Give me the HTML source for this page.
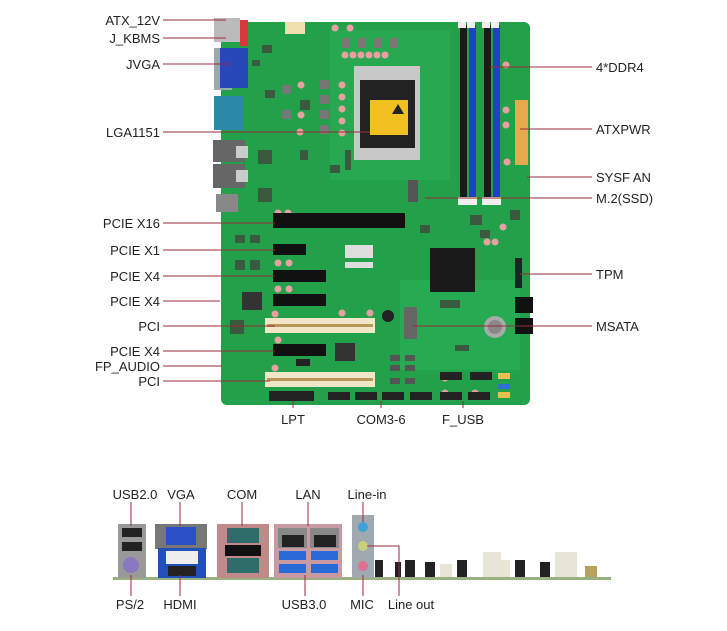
<!DOCTYPE html>
<html><head><meta charset="utf-8"><style>
html,body{margin:0;padding:0;background:#fff;}
svg{display:block;}
text{font-family:"Liberation Sans",sans-serif;font-size:13px;fill:#222;}
</style></head><body>
<svg width="727" height="631" viewBox="0 0 727 631" xmlns="http://www.w3.org/2000/svg">
<!-- board -->
<rect x="221" y="22" width="309" height="383" rx="6" fill="#22a04a"/>
<rect x="330" y="30" width="120" height="150" fill="#2bb058" opacity="0.5"/>
<rect x="400" y="280" width="120" height="90" fill="#2ab35a" opacity="0.5"/>
<!-- back IO left -->
<rect x="214" y="18" width="26" height="24" fill="#bbb"/>
<rect x="240" y="20" width="8" height="26" fill="#d83838"/>
<rect x="285" y="22" width="20" height="12" fill="#f0e0b0"/>
<rect x="214" y="48" width="18" height="42" fill="#9aa"/>
<rect x="220" y="48" width="28" height="40" fill="#2848b8"/>
<rect x="214" y="96" width="30" height="34" fill="#2a88a8"/>
<rect x="213" y="140" width="32" height="22" fill="#666"/>
<rect x="213" y="164" width="32" height="24" fill="#666"/>
<rect x="236" y="146" width="12" height="12" fill="#ccc"/>
<rect x="236" y="170" width="12" height="12" fill="#ccc"/>
<rect x="216" y="194" width="22" height="18" fill="#888"/>
<!-- scattered small parts -->
<g fill="#3a5a40">
<rect x="252" y="60" width="8" height="6"/><rect x="262" y="45" width="10" height="8"/><rect x="258" y="150" width="14" height="14"/><rect x="258" y="188" width="14" height="14"/>
<rect x="300" y="150" width="8" height="10"/><rect x="345" y="150" width="6" height="20"/><rect x="330" y="165" width="10" height="8"/>
<rect x="235" y="235" width="10" height="8"/><rect x="250" y="235" width="10" height="8"/><rect x="235" y="260" width="10" height="10"/><rect x="250" y="260" width="10" height="10"/>
<rect x="480" y="230" width="10" height="8"/><rect x="470" y="215" width="12" height="10"/><rect x="510" y="210" width="10" height="10"/>
<rect x="440" y="300" width="20" height="8"/><rect x="455" y="345" width="14" height="6"/><rect x="230" y="320" width="14" height="14"/>
<rect x="420" y="225" width="10" height="8"/><rect x="300" y="100" width="10" height="10"/><rect x="265" y="90" width="10" height="8"/>
</g>
<!-- VRM components -->
<g fill="#777">
<rect x="342" y="38" width="8" height="10"/><rect x="358" y="38" width="8" height="10"/><rect x="374" y="38" width="8" height="10"/><rect x="390" y="38" width="8" height="10"/>
<rect x="320" y="80" width="9" height="9"/><rect x="320" y="95" width="9" height="9"/><rect x="320" y="110" width="9" height="9"/><rect x="320" y="125" width="9" height="9"/>
<rect x="282" y="85" width="9" height="9"/><rect x="282" y="110" width="9" height="9"/>
</g>
<g fill="#e8a0a0">
<circle cx="345" cy="55" r="3.5"/><circle cx="353" cy="55" r="3.5"/><circle cx="361" cy="55" r="3.5"/><circle cx="369" cy="55" r="3.5"/><circle cx="377" cy="55" r="3.5"/><circle cx="385" cy="55" r="3.5"/>
<circle cx="342" cy="85" r="3.5"/><circle cx="342" cy="97" r="3.5"/><circle cx="342" cy="109" r="3.5"/><circle cx="342" cy="121" r="3.5"/><circle cx="342" cy="133" r="3.5"/>
<circle cx="301" cy="85" r="3.5"/><circle cx="301" cy="115" r="3.5"/><circle cx="300" cy="132" r="3.5"/>
<circle cx="335" cy="28" r="3.5"/><circle cx="350" cy="28" r="3.5"/>
<circle cx="506" cy="65" r="3.5"/><circle cx="506" cy="110" r="3.5"/><circle cx="506" cy="125" r="3.5"/><circle cx="507" cy="162" r="3.5"/>
<circle cx="278" cy="213" r="3.5"/><circle cx="288" cy="213" r="3.5"/>
<circle cx="278" cy="263" r="3.5"/><circle cx="289" cy="263" r="3.5"/>
<circle cx="278" cy="289" r="3.5"/><circle cx="289" cy="289" r="3.5"/>
<circle cx="275" cy="314" r="3.5"/><circle cx="342" cy="313" r="3.5"/><circle cx="370" cy="313" r="3.5"/>
<circle cx="278" cy="340" r="3.5"/><circle cx="275" cy="368" r="3.5"/>
<circle cx="445" cy="378" r="3.5"/><circle cx="445" cy="393" r="3.5"/><circle cx="475" cy="393" r="3.5"/>
<circle cx="503" cy="227" r="3.5"/><circle cx="487" cy="242" r="3.5"/><circle cx="495" cy="242" r="3.5"/>
</g>
<!-- CPU socket -->
<rect x="354" y="66" width="66" height="94" fill="#c8c8c8"/>
<rect x="360" y="80" width="55" height="68" fill="#222"/>
<rect x="370" y="100" width="38" height="35" fill="#f0c020"/>
<polygon points="398,104 392,114 404,114" fill="#222"/>
<!-- DIMMs -->
<rect x="460" y="25" width="7" height="180" fill="#1a1a1a"/>
<rect x="469" y="25" width="7" height="180" fill="#2040c8"/>
<rect x="484" y="25" width="7" height="180" fill="#1a1a1a"/>
<rect x="493" y="25" width="7" height="180" fill="#2040c8"/>
<g fill="#eee"><rect x="458" y="197" width="10" height="8"/><rect x="467" y="197" width="10" height="8"/><rect x="482" y="197" width="10" height="8"/><rect x="491" y="197" width="10" height="8"/>
<rect x="458" y="22" width="8" height="6"/><rect x="467" y="22" width="8" height="6"/><rect x="482" y="22" width="8" height="6"/><rect x="491" y="22" width="8" height="6"/></g>
<!-- ATXPWR -->
<rect x="515" y="100" width="13" height="65" fill="#e8a850"/>
<!-- M.2 -->
<rect x="408" y="180" width="10" height="22" fill="#555"/>
<!-- slots -->
<rect x="273" y="213" width="132" height="15" fill="#111"/>
<rect x="273" y="244" width="33" height="11" fill="#111"/>
<rect x="273" y="270" width="53" height="12" fill="#111"/>
<rect x="273" y="294" width="53" height="12" fill="#111"/>
<rect x="265" y="318" width="110" height="15" fill="#f2e6c8"/>
<rect x="267" y="324" width="106" height="3" fill="#b89858"/>
<rect x="273" y="344" width="53" height="12" fill="#111"/>
<rect x="265" y="372" width="110" height="15" fill="#f2e6c8"/>
<rect x="267" y="378" width="106" height="3" fill="#b89858"/>
<!-- chips -->
<rect x="430" y="248" width="45" height="44" fill="#1a1a1a"/>
<rect x="242" y="292" width="20" height="18" fill="#333"/>
<rect x="335" y="343" width="20" height="18" fill="#333"/>
<rect x="515" y="297" width="18" height="16" fill="#111"/>
<rect x="515" y="318" width="18" height="16" fill="#111"/>
<rect x="515" y="258" width="7" height="30" fill="#222"/>
<circle cx="495" cy="327" r="11" fill="#aaa"/>
<circle cx="495" cy="327" r="7" fill="#888"/>
<rect x="404" y="307" width="13" height="32" fill="#666"/>
<circle cx="388" cy="316" r="6" fill="#222"/>
<rect x="345" y="245" width="28" height="13" fill="#ddd"/>
<rect x="345" y="262" width="28" height="6" fill="#ddd"/>
<!-- bottom headers -->
<g fill="#222"><rect x="269" y="391" width="45" height="10"/><rect x="328" y="392" width="22" height="8"/><rect x="355" y="392" width="22" height="8"/><rect x="382" y="392" width="22" height="8"/><rect x="410" y="392" width="22" height="8"/><rect x="440" y="392" width="22" height="8"/><rect x="468" y="392" width="22" height="8"/><rect x="470" y="372" width="22" height="8"/><rect x="440" y="372" width="22" height="8"/><rect x="296" y="359" width="14" height="7"/></g>
<g fill="#555"><rect x="390" y="355" width="10" height="6"/><rect x="390" y="365" width="10" height="6"/><rect x="405" y="355" width="10" height="6"/><rect x="405" y="365" width="10" height="6"/><rect x="390" y="378" width="10" height="6"/><rect x="405" y="378" width="10" height="6"/></g>
<rect x="498" y="373" width="12" height="6" fill="#e8c050"/><rect x="498" y="384" width="12" height="5" fill="#3070d0"/><rect x="498" y="392" width="12" height="6" fill="#e8c050"/>

<!-- callout lines -->
<g stroke="#9a2a3a" stroke-width="1" fill="none">
<line x1="163" y1="20" x2="226" y2="20"/>
<line x1="163" y1="38" x2="226" y2="38"/>
<line x1="163" y1="64" x2="232" y2="64"/>
<line x1="163" y1="132" x2="370" y2="132"/>
<line x1="163" y1="223" x2="275" y2="223"/>
<line x1="163" y1="250" x2="275" y2="250"/>
<line x1="163" y1="276" x2="275" y2="276"/>
<line x1="163" y1="301" x2="220" y2="301"/>
<line x1="163" y1="326" x2="275" y2="326"/>
<line x1="163" y1="351" x2="275" y2="351"/>
<line x1="163" y1="366" x2="222" y2="366"/>
<line x1="163" y1="381" x2="270" y2="381"/>
<line x1="490" y1="67" x2="592" y2="67"/>
<line x1="520" y1="129" x2="592" y2="129"/>
<line x1="527" y1="177" x2="592" y2="177"/>
<line x1="425" y1="198" x2="592" y2="198"/>
<line x1="520" y1="274" x2="592" y2="274"/>
<line x1="412" y1="326" x2="592" y2="326"/>
<line x1="293" y1="401" x2="293" y2="408"/>
<line x1="381" y1="401" x2="381" y2="408"/>
<line x1="463" y1="401" x2="463" y2="408"/>
</g>
<g text-anchor="end">
<text x="160" y="25">ATX_12V</text>
<text x="160" y="43">J_KBMS</text>
<text x="160" y="69">JVGA</text>
<text x="160" y="137">LGA1151</text>
<text x="160" y="228">PCIE X16</text>
<text x="160" y="255">PCIE X1</text>
<text x="160" y="281">PCIE X4</text>
<text x="160" y="306">PCIE X4</text>
<text x="160" y="331">PCI</text>
<text x="160" y="356">PCIE X4</text>
<text x="160" y="371">FP_AUDIO</text>
<text x="160" y="386">PCI</text>
</g>
<text x="596" y="72">4*DDR4</text>
<text x="596" y="134">ATXPWR</text>
<text x="596" y="182">SYSF AN</text>
<text x="596" y="203">M.2(SSD)</text>
<text x="596" y="279">TPM</text>
<text x="596" y="331">MSATA</text>
<g text-anchor="middle">
<text x="293" y="424">LPT</text>
<text x="381" y="424">COM3-6</text>
<text x="463" y="424">F_USB</text>
</g>

<!-- rear panel -->
<rect x="113" y="577" width="498" height="3" fill="#9ab080"/>
<rect x="118" y="524" width="28" height="54" fill="#999"/>
<rect x="122" y="528" width="20" height="9" fill="#222"/>
<rect x="122" y="542" width="20" height="9" fill="#222"/>
<circle cx="131" cy="565" r="8" fill="#8a78c0"/>
<rect x="155" y="524" width="52" height="25" fill="#777"/>
<rect x="166" y="527" width="30" height="18" fill="#2a50c8"/>
<rect x="158" y="548" width="48" height="30" fill="#2050b8"/>
<rect x="166" y="551" width="32" height="13" fill="#eee"/>
<rect x="168" y="566" width="28" height="10" fill="#222"/>
<rect x="217" y="524" width="52" height="54" fill="#c08a8a"/>
<rect x="227" y="528" width="32" height="15" fill="#2e6e6a"/>
<rect x="227" y="558" width="32" height="15" fill="#2e6e6a"/>
<rect x="225" y="545" width="36" height="11" fill="#111"/>
<rect x="274" y="524" width="68" height="54" fill="#c89aa4"/>
<rect x="278" y="528" width="29" height="20" fill="#888"/>
<rect x="310" y="528" width="29" height="20" fill="#888"/>
<rect x="282" y="535" width="22" height="12" fill="#222"/>
<rect x="314" y="535" width="22" height="12" fill="#222"/>
<rect x="279" y="551" width="27" height="9" fill="#2a6ad8"/>
<rect x="311" y="551" width="27" height="9" fill="#2a6ad8"/>
<rect x="279" y="564" width="27" height="9" fill="#2a6ad8"/>
<rect x="311" y="564" width="27" height="9" fill="#2a6ad8"/>
<rect x="352" y="515" width="22" height="63" fill="#a0a8b0"/>
<circle cx="363" cy="527" r="5" fill="#40a0d8"/>
<circle cx="363" cy="546" r="5" fill="#c8d080"/>
<circle cx="363" cy="566" r="5" fill="#e07090"/>
<g fill="#222"><rect x="375" y="560" width="8" height="17"/><rect x="395" y="562" width="6" height="15"/><rect x="405" y="560" width="10" height="17"/><rect x="425" y="562" width="10" height="15"/><rect x="457" y="560" width="10" height="17"/><rect x="515" y="560" width="10" height="17"/><rect x="540" y="562" width="10" height="15"/></g>
<g fill="#e8e4d8"><rect x="483" y="552" width="18" height="25"/><rect x="555" y="552" width="22" height="25"/><rect x="440" y="564" width="12" height="13"/><rect x="500" y="560" width="10" height="17"/></g>
<rect x="585" y="566" width="12" height="11" fill="#b8a060"/>
<g stroke="#9a2a3a" stroke-width="1" fill="none">
<line x1="131" y1="502" x2="131" y2="526"/>
<line x1="180" y1="502" x2="180" y2="526"/>
<line x1="242" y1="502" x2="242" y2="526"/>
<line x1="308" y1="502" x2="308" y2="526"/>
<line x1="363" y1="502" x2="363" y2="522"/>
<line x1="131" y1="575" x2="131" y2="596"/>
<line x1="180" y1="575" x2="180" y2="596"/>
<line x1="305" y1="575" x2="305" y2="596"/>
<line x1="363" y1="575" x2="363" y2="596"/>
<polyline points="367,546 399,546 399,596"/>
</g>
<g text-anchor="middle">
<text x="135" y="499">USB2.0</text>
<text x="181" y="499">VGA</text>
<text x="242" y="499">COM</text>
<text x="308" y="499">LAN</text>
<text x="367" y="499">Line-in</text>
<text x="130" y="609">PS/2</text>
<text x="180" y="609">HDMI</text>
<text x="304" y="609">USB3.0</text>
<text x="362" y="609">MIC</text>
<text x="411" y="609">Line out</text>
</g>
</svg>
</body></html>
